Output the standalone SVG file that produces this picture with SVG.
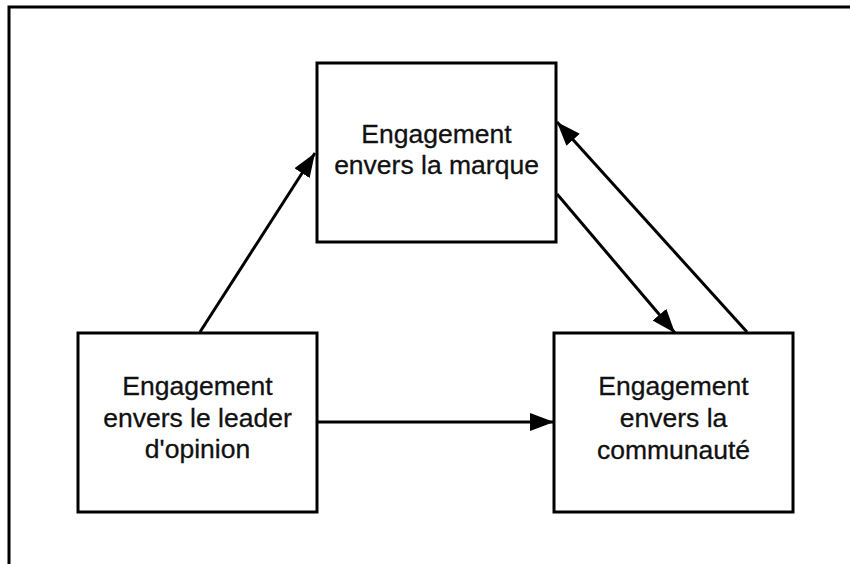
<svg xmlns="http://www.w3.org/2000/svg" width="850" height="564" viewBox="0 0 850 564">
<style>
.box{fill:#fff;stroke:#000;stroke-width:3}
.lbl{font-family:"Liberation Sans",Arial,sans-serif;font-size:26.5px;fill:#111;text-anchor:middle;stroke:#111;stroke-width:0.3}
.edge{stroke:#000;stroke-width:3;fill:none;marker-end:url(#ah)}
</style>
<defs>
<marker id="ah" markerUnits="userSpaceOnUse" markerWidth="26" markerHeight="20" refX="24" refY="9" orient="auto" viewBox="0 0 26 18">
<path d="M0,0 L24,9 L0,18 Z" fill="#000"/>
</marker>
</defs>
<rect x="9" y="7" width="860" height="580" fill="none" stroke="#000" stroke-width="3"/>
<g id="connectors">
<line class="edge" x1="200" y1="332" x2="315" y2="153"/>
<line class="edge" x1="557" y1="194" x2="675" y2="333"/>
<line class="edge" x1="747" y1="332" x2="557" y2="122"/>
<line class="edge" x1="318" y1="422" x2="554" y2="422"/>
</g>
<g id="node-marque">
<rect class="box" x="317" y="63" width="239" height="179"/>
<text class="lbl" x="436.5" y="143">Engagement</text>
<text class="lbl" x="436.5" y="174">envers la marque</text>
</g>
<g id="node-leader">
<rect class="box" x="78" y="333" width="239" height="179"/>
<text class="lbl" x="197.5" y="395">Engagement</text>
<text class="lbl" x="197.5" y="427">envers le leader</text>
<text class="lbl" x="197.5" y="458">d'opinion</text>
</g>
<g id="node-communaute">
<rect class="box" x="554" y="333" width="239" height="179"/>
<text class="lbl" x="673.5" y="395">Engagement</text>
<text class="lbl" x="673.5" y="427">envers la</text>
<text class="lbl" x="673.5" y="459">communauté</text>
</g>
</svg>
